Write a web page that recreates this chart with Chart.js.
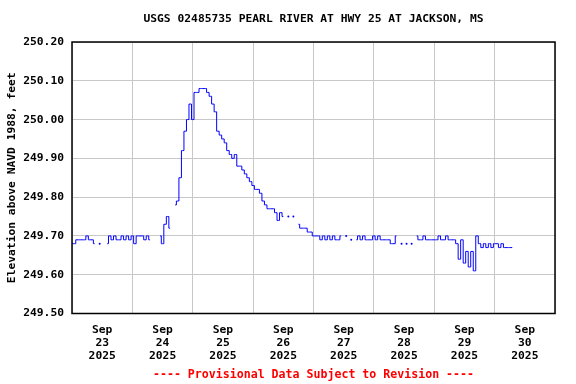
<!DOCTYPE html>
<html>
<head>
<meta charset="utf-8">
<script src="https://cdn.jsdelivr.net/npm/chart.js@4"></script>
<style>
    html, body { margin: 0; padding: 0; background: #fff; }
</style>
</head>
<body>
<canvas id="gageChart" width="576" height="384"></canvas>
<script>
// hourly water surface elevation (ft), one array per day starting at midnight
const sep23 = [249.68, 249.68, 249.69, 249.69, 249.69, 249.69, 249.70, 249.69, 249.69, 249.68, null, 249.68,
               null, null, 249.68, 249.70, 249.69, 249.70, 249.69, 249.69, 249.70, 249.69, 249.70, 249.69];
const sep24 = [249.70, 249.68, 249.70, 249.70, 249.70, 249.69, 249.70, 249.69, null, null, null, 249.70,
               249.68, 249.73, 249.75, 249.72, null, 249.78, 249.79, 249.85, 249.92, 249.97, 250.00, 250.04];
const sep25 = [250.00, 250.07, 250.07, 250.08, 250.08, 250.08, 250.07, 250.06, 250.04, 250.02, 249.97, 249.96,
               249.95, 249.94, 249.92, 249.91, 249.90, 249.91, 249.88, 249.88, 249.87, 249.86, 249.85, 249.84];
const sep26 = [249.83, 249.82, 249.82, 249.81, 249.79, 249.78, 249.77, 249.77, 249.77, 249.76, 249.74, 249.76,
               249.75, null, 249.75, null, 249.75, null, 249.73, 249.72, 249.72, 249.72, 249.71, 249.71];
const sep27 = [249.70, 249.70, 249.70, 249.69, 249.70, 249.69, 249.70, 249.69, 249.70, 249.69, 249.69, 249.70,
               null, 249.70, null, 249.69, null, 249.69, 249.70, 249.69, 249.70, 249.69, 249.69, 249.69];
const sep28 = [249.70, 249.69, 249.70, 249.69, 249.69, 249.69, 249.69, 249.68, 249.68, 249.70, null, 249.68,
               null, 249.68, null, 249.68, null, 249.70, 249.69, 249.69, 249.70, 249.69, 249.69, 249.69];
const sep29 = [249.69, 249.69, 249.70, 249.69, 249.69, 249.70, 249.69, 249.69, 249.69, 249.68, 249.64, 249.69,
               249.63, 249.66, 249.62, 249.66, 249.61, 249.70, 249.68, 249.67, 249.68, 249.67, 249.68, 249.67];
const sep30 = [249.68, 249.68, 249.67, 249.68, 249.67, 249.67, 249.67, 249.67];

const monthLabel = 'Sep';
const yearLabel = '2025';
const dayLabels = ['23', '24', '25', '26', '27', '28', '29', '30'];

const chartTitle = 'USGS 02485735 PEARL RIVER AT HWY 25 AT JACKSON, MS';
const footNote = '---- Provisional Data Subject to Revision ----';

const yMin = 249.5, yMax = 250.2, yStep = 0.1;
const hoursPerDay = 24;

const FONT = 'DejaVu Sans Mono';

const elevation = [].concat(sep23, sep24, sep25, sep26, sep27, sep28, sep29, sep30);
const points = elevation.map((v, i) => ({ x: i, y: v }));

// frame round the plot area, plus title and footnote centred on it
const frameBox = {
    id: 'frameBox',
    afterDraw(chart) {
        const a = chart.chartArea, ctx = chart.ctx;
        const cx = (a.left + a.right) / 2;
        ctx.save();
        ctx.strokeStyle = '#000';
        ctx.lineWidth = 1.5;
        ctx.strokeRect(a.left, a.top, a.right - a.left, a.bottom - a.top);

        ctx.textAlign = 'center';
        ctx.textBaseline = 'middle';
        ctx.font = 'bold 11.3px "' + FONT + '"';
        ctx.fillStyle = '#000';
        ctx.fillText(chartTitle, cx, 19);
        ctx.font = 'bold 11.6px "' + FONT + '"';
        ctx.fillStyle = '#ff0000';
        ctx.fillText(footNote, cx, 375);
        ctx.restore();
    }
};

function loneDot(ctx) {
    const d = ctx.dataset.data, i = ctx.dataIndex;
    if (!d[i] || d[i].y == null) return 0;
    const prev = d[i - 1], next = d[i + 1];
    return ((!prev || prev.y == null) && (!next || next.y == null)) ? 1 : 0;
}

new Chart(document.getElementById('gageChart'), {
    type: 'line',
    data: {
        datasets: [{
            data: points,
            borderColor: '#0000ff',
            borderWidth: 1,
            stepped: 'middle',
            spanGaps: false,
            pointRadius: loneDot,
            pointHoverRadius: 0,
            pointBackgroundColor: '#0000ff',
            pointBorderWidth: 0
        }]
    },
    options: {
        responsive: false,
        animation: false,
        devicePixelRatio: 1,
        layout: { padding: { left: 0, right: 21, top: 42, bottom: 16.5 } },
        plugins: {
            legend: { display: false },
            tooltip: { enabled: false }
        },
        scales: {
            x: {
                type: 'linear',
                min: 0,
                max: dayLabels.length * hoursPerDay,
                border: { display: false },
                grid: { color: '#c8c8c8', lineWidth: 1, drawTicks: false },
                afterFit: s => { s.height = 54; },
                ticks: {
                    stepSize: hoursPerDay,
                    autoSkip: false,
                    maxRotation: 0,
                    padding: 10,
                    labelOffset: 30.2,
                    color: '#000',
                    font: { family: FONT, size: 11.3, weight: 'bold', lineHeight: 1.15 },
                    callback: v => {
                        const i = Math.round(v / hoursPerDay);
                        if (i >= dayLabels.length) return '';
                        return [monthLabel, dayLabels[i], yearLabel];
                    }
                }
            },
            y: {
                min: yMin,
                max: yMax,
                border: { display: false },
                grid: { color: '#c8c8c8', lineWidth: 1, drawTicks: false },
                afterFit: s => { s.width = 72; },
                ticks: {
                    stepSize: yStep,
                    padding: 8,
                    color: '#000',
                    font: { family: FONT, size: 11.3, weight: 'bold' },
                    callback: v => v.toFixed(2)
                },
                title: {
                    display: true,
                    text: 'Elevation above NAVD 1988, feet',
                    color: '#000',
                    font: { family: FONT, size: 11.3, weight: 'bold' },
                    padding: { top: 5, bottom: 0 }
                }
            }
        }
    },
    plugins: [frameBox]
});
</script>
</body>
</html>
